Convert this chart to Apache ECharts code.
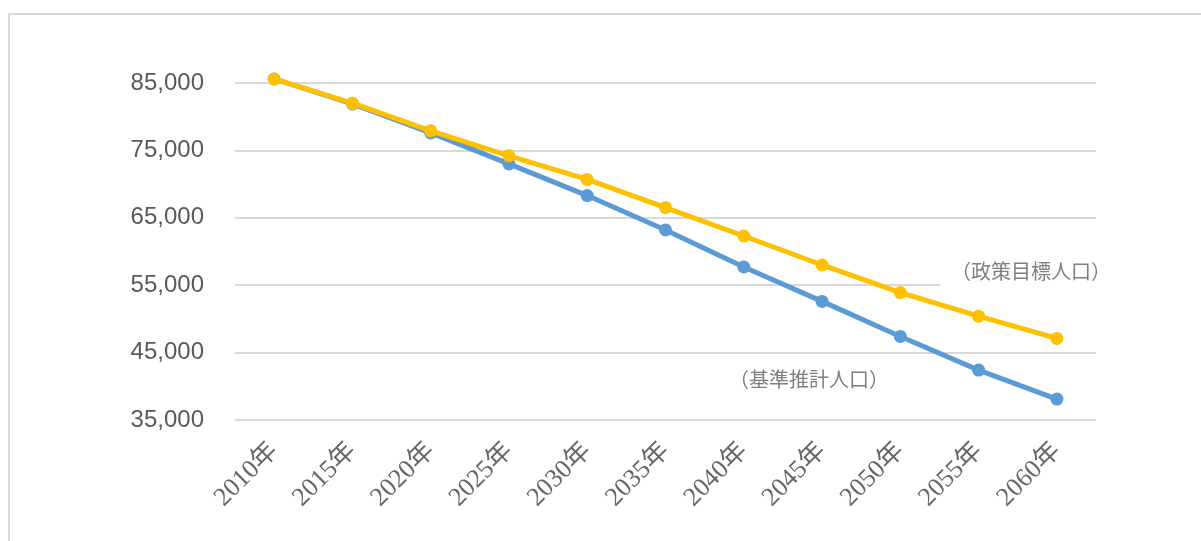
<!DOCTYPE html>
<html>
<head>
<meta charset="utf-8">
<script src="https://cdn.jsdelivr.net/npm/echarts@6/dist/echarts.min.js"></script>
<style>
html,body{margin:0;padding:0;background:#fff;}
#main{width:1201px;height:541px;}
</style>
</head>
<body>
<div id="main"></div>
<script>
const categories = ['2010年','2015年','2020年','2025年','2030年','2035年','2040年','2045年','2050年','2055年','2060年'];
const baselinePop = [85600, 81900, 77600, 73000, 68300, 63200, 57700, 52600, 47400, 42400, 38100];
const policyPop = [85600, 82000, 77900, 74200, 70700, 66500, 62300, 58000, 53900, 50400, 47100];
const yTickLabels = [35000, 45000, 55000, 65000, 75000, 85000];
const baselineName = '（基準推計人口）';
const policyName = '（政策目標人口）';

const chart = echarts.init(document.getElementById('main'), null, {renderer: 'canvas'});
const option = {
  animation: false,
  backgroundColor: '#ffffff',
  grid: {left: 235, right: 105, top: 83, bottom: 121, containLabel: false},
  xAxis: {
    type: 'category',
    data: categories,
    boundaryGap: true,
    axisLine: {show: false},
    axisTick: {show: false},
    axisLabel: {
      rotate: 45,
      margin: 27,
      color: '#666666',
      fontSize: 26,
      fontFamily: 'Liberation Serif, Noto Sans CJK JP, serif'
    }
  },
  yAxis: {
    type: 'value',
    min: 35000,
    max: 85000,
    interval: 5000,
    axisLine: {show: false},
    axisTick: {show: false},
    axisLabel: {
      margin: 31,
      color: '#595959',
      fontSize: 24,
      fontFamily: '"Liberation Sans", sans-serif',
      formatter: function (v) {
        return yTickLabels.indexOf(v) >= 0 ? v.toLocaleString('en-US') : '';
      }
    },
    splitLine: {
      show: true,
      lineStyle: {color: ['#d9d9d9', 'rgba(0,0,0,0)'], width: 2}
    }
  },
  series: [
    {
      name: baselineName,
      type: 'line',
      data: baselinePop,
      clip: false,
      symbol: 'circle',
      symbolSize: 13,
      lineStyle: {color: '#5B9BD5', width: 5},
      itemStyle: {color: '#5B9BD5'},
      z: 2
    },
    {
      name: policyName,
      type: 'line',
      data: policyPop,
      clip: false,
      symbol: 'circle',
      symbolSize: 13,
      lineStyle: {color: '#FFC000', width: 5},
      itemStyle: {color: '#FFC000'},
      z: 3
    }
  ],
  graphic: [
    {
      type: 'rect',
      z: -1,
      shape: {x: 9, y: 14, width: 1200, height: 540},
      style: {fill: 'none', stroke: '#d9d9d9', lineWidth: 2}
    },
    {
      type: 'rect',
      z: 1,
      shape: {x: 940, y: 258, width: 180, height: 32},
      style: {fill: '#ffffff'}
    },
    {
      type: 'text',
      z: 2,
      left: 951,
      top: 261,
      style: {text: policyName, fill: '#7f7f7f', fontSize: 20, fontFamily: '"Noto Sans CJK JP", sans-serif'}
    },
    {
      type: 'text',
      z: 2,
      left: 729,
      top: 369,
      style: {text: baselineName, fill: '#7f7f7f', fontSize: 20, fontFamily: '"Noto Sans CJK JP", sans-serif'}
    }
  ]
};
chart.setOption(option);
</script>
</body>
</html>
